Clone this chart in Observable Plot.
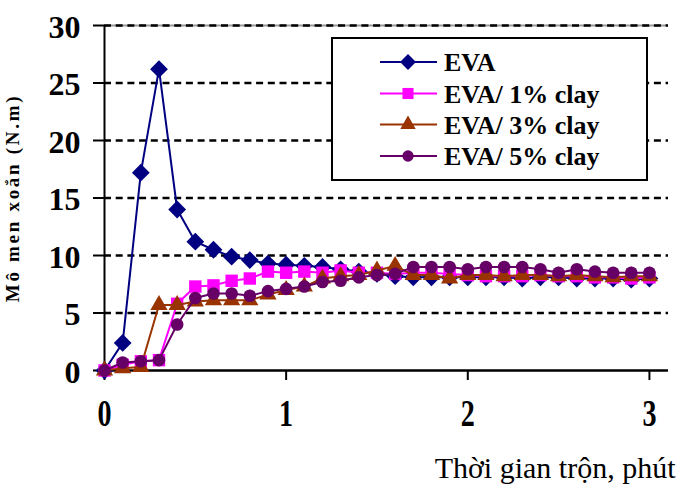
<!DOCTYPE html>
<html><head><meta charset="utf-8">
<script src="https://cdn.jsdelivr.net/npm/d3@7"></script>
<script src="https://cdn.jsdelivr.net/npm/@observablehq/plot@0.6"></script>
<style>
body{margin:0;background:#fff;}
#wrap{position:relative;width:676px;height:486px;overflow:hidden;}
#legend{position:absolute;left:331px;top:37px;}
</style></head><body><div id="wrap"></div>
<script>
const time  = [0,0.1,0.2,0.3,0.4,0.5,0.6,0.7,0.8,0.9,1.0,1.1,1.2,1.3,1.4,1.5,1.6,1.7,1.8,1.9,2.0,2.1,2.2,2.3,2.4,2.5,2.6,2.7,2.8,2.9,3.0];
const eva   = [0,2.4,17.2,26.2,14.0,11.2,10.5,9.9,9.6,9.3,9.2,9.1,9.0,8.8,8.6,8.4,8.2,8.1,8.1,8.1,8.1,8.1,8.1,8.0,8.1,8.1,8.0,8.0,8.0,7.9,8.0];
const clay1 = [0,0.5,0.8,0.9,5.8,7.3,7.4,7.8,8.0,8.6,8.5,8.6,8.5,8.7,8.5,8.5,8.4,8.5,8.5,8.4,8.3,8.2,8.2,8.2,8.3,8.2,8.2,8.1,8.1,8.0,8.1];
const clay3 = [0,0.2,0.3,5.7,5.7,6.0,6.1,6.1,6.1,6.6,7.0,7.3,8.0,8.2,8.3,8.7,9.1,8.3,8.3,8.0,8.3,8.3,8.2,8.3,8.3,8.2,8.3,8.2,8.1,8.2,8.2];
const clay5 = [0,0.7,0.8,0.9,4.0,6.3,6.7,6.7,6.5,6.9,7.1,7.3,7.7,7.8,8.1,8.3,8.4,9.0,9.0,9.0,8.8,9.0,9.0,9.0,8.8,8.5,8.8,8.6,8.5,8.5,8.5];
const seriesNames   = ["EVA","EVA/ 1% clay","EVA/ 3% clay","EVA/ 5% clay"];
const seriesColors  = ["#000080","#FF00FF","#993300","#660066"];
const seriesSymbols = ["diamond2","square","triangle","circle"];
const seriesR       = [8,7,6.4,6.3];
const xTicks = [0,1,2,3];
const yTicks = [0,5,10,15,20,25,30];
const xTitle = "Thời gian trộn, phút";
const yTitle = "Mô men xoắn (N.m)";

const FONT = "'Liberation Serif','Times New Roman',serif";
const values = [eva, clay1, clay3, clay5];
const data = seriesNames.map((s,k)=>time.map((t,i)=>({series:s, t, v:values[k][i]})));

const seriesMarks = data.flatMap((d,k)=>[
  Plot.line(d,{x:"t",y:"v",stroke:seriesColors[k],strokeWidth:2}),
  Plot.dot(d,{x:"t",y:"v",symbol:()=>seriesSymbols[k],fill:seriesColors[k],r:seriesR[k]})
]);

const chart = Plot.plot({
  width:676, height:486,
  marginLeft:104, marginRight:8, marginTop:25, marginBottom:116,
  style:{fontFamily:FONT, background:"#fff", color:"#000"},
  symbol:{type:"identity"},
  x:{domain:[0,3.105], ticks:xTicks, tickSize:10, tickFormat:()=>"", label:null},
  y:{domain:[0,30], ticks:yTicks, tickSize:11, tickFormat:()=>"", label:null},
  marks:[
    Plot.ruleY([30],{stroke:"#999",strokeWidth:2}),
    Plot.ruleY(yTicks.filter(d=>d>0),{stroke:"#000",strokeWidth:2.5,strokeDasharray:"7,4.7"}),
    Plot.ruleY([0],{stroke:"#000",strokeWidth:2.5}),
    Plot.ruleX([0],{stroke:"#000",strokeWidth:2}),
    Plot.text(xTicks,{x:d=>d,text:d=>String(d),frameAnchor:"bottom",dy:55.6,textAnchor:"middle",lineAnchor:"middle",fontSize:38,fontWeight:"bold",fontFamily:FONT,fill:"#000"}),
    Plot.text(yTicks,{y:d=>d,text:d=>String(d),frameAnchor:"left",dx:-24,dy:2,textAnchor:"end",lineAnchor:"middle",fontSize:32,fontWeight:"bold",fontFamily:FONT,fill:"#000"}),
    Plot.text([yTitle],{text:d=>d,frameAnchor:"left",dx:-92,rotate:-90,textAnchor:"middle",lineAnchor:"middle",fontSize:19,fontWeight:"bold",fontFamily:FONT,fill:"#000"}),
    Plot.text([xTitle],{text:d=>d,frameAnchor:"bottom-right",dx:7,dy:98,textAnchor:"end",lineAnchor:"middle",fontSize:30,fontFamily:FONT,fill:"#000"}),
    ...seriesMarks
  ]
});

// thicker axis tick lines
d3.select(chart).selectAll('g[aria-label^="x-axis"], g[aria-label^="y-axis"]').attr("stroke-width",2);
d3.select(chart).selectAll('g[aria-label^="x-axis"] line, g[aria-label^="y-axis"] line, g[aria-label^="x-axis"] path, g[aria-label^="y-axis"] path').attr("stroke-width",2);

// find the text-mark groups in mark order
const textGroups = chart.querySelectorAll('g[aria-label="text"]');
let xLabelTexts = [], yTitleTexts = [];
if (textGroups.length >= 4) {
  xLabelTexts = Array.from(textGroups[0].querySelectorAll("text"));
  yTitleTexts = Array.from(textGroups[2].querySelectorAll("text"));
} else {
  const all = Array.from(chart.querySelectorAll("text"));
  yTitleTexts = all.filter(t=>t.textContent===yTitle);
}
// narrow the x tick labels
xLabelTexts.forEach(el=>{
  const tr = el.getAttribute("transform")||"";
  const x = +el.getAttribute("x")||0, y = +el.getAttribute("y")||0;
  el.removeAttribute("x"); el.removeAttribute("y");
  el.setAttribute("transform", `${tr} translate(${x},${y}) scale(0.74,1)`);
});
yTitleTexts.forEach(el=>el.setAttribute("letter-spacing","2.7"));

const wrap = document.getElementById("wrap");
wrap.appendChild(chart);

// legend
const lg = d3.select(wrap).append("svg").attr("id","legend").attr("width",318).attr("height",145);
lg.append("rect").attr("x",1).attr("y",1).attr("width",315).attr("height",142).attr("fill","#fff").attr("stroke","#000").attr("stroke-width",2);
const rowY = [25,56.5,87.5,119];
const symMap = {diamond2:d3.symbolDiamond2, square:d3.symbolSquare, triangle:d3.symbolTriangle, circle:d3.symbolCircle};
seriesNames.forEach((name,k)=>{
  const g = lg.append("g").attr("transform",`translate(0,${rowY[k]})`);
  g.append("line").attr("x1",49).attr("x2",106).attr("stroke",seriesColors[k]).attr("stroke-width",2);
  g.append("path").attr("transform","translate(77,0)")
    .attr("d",d3.symbol(symMap[seriesSymbols[k]], Math.PI*seriesR[k]*seriesR[k]*0.8)())
    .attr("fill",seriesColors[k]);
  g.append("text").attr("x",113).attr("y",0).attr("dy","0.35em")
    .attr("font-family",FONT).attr("font-weight","bold").attr("font-size",26).attr("fill","#000").text(name);
});
</script></body></html>
